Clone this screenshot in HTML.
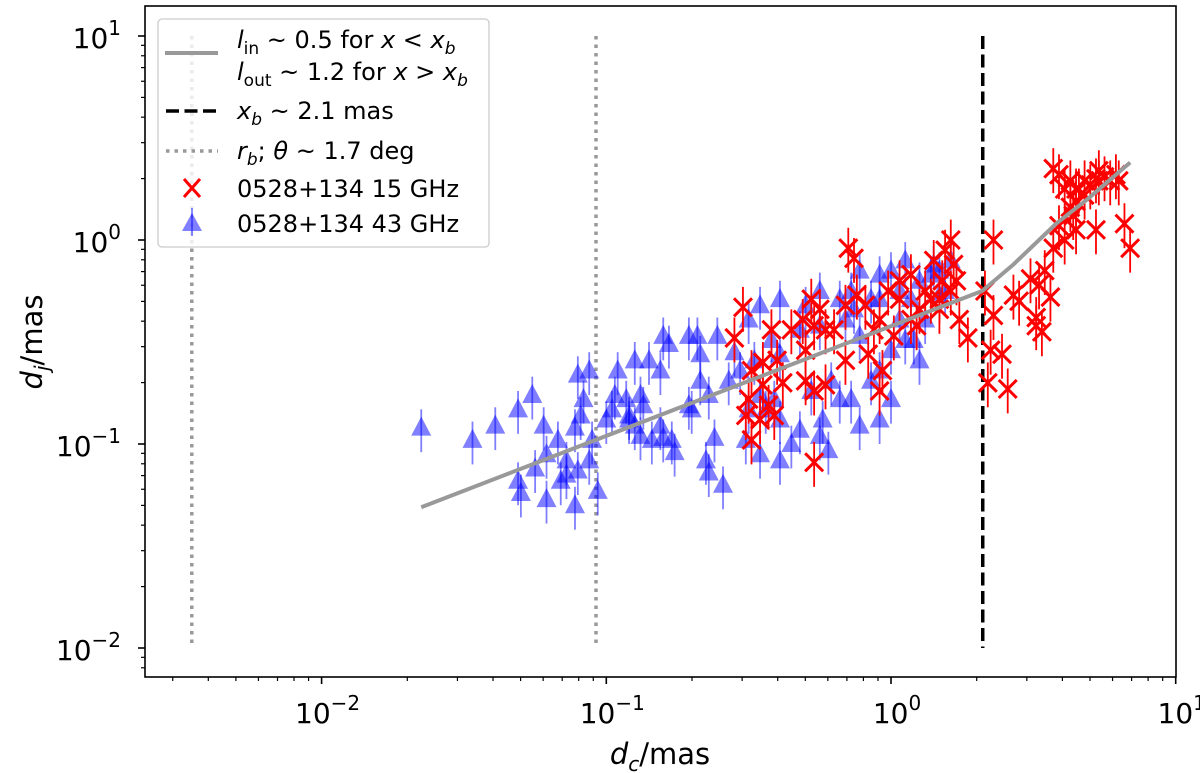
<!DOCTYPE html>
<html><head><meta charset="utf-8"><style>
body{margin:0;background:#fff;}
svg{display:block;font-family:"DejaVu Sans","Liberation Sans",sans-serif;}
</style></head><body>
<svg id="chart" width="1200" height="773" viewBox="0 0 1200 773" xmlns="http://www.w3.org/2000/svg">
<g id="plot"></g>
<g id="axes"></g>
<g id="legend"></g>
</svg>
<script>
// log10 values
const blueLogX = [-1.65,-1.47,-1.39,-1.31,-1.22,-1.21,-1.25,-1.26,-1.30,-1.31,-1.21,-1.16,-1.14,-1.10,-1.11,-1.10,-1.06,-1.05,-1.03,-1.06,-1.11,-1.17,-1.14,-1.09,-1.08,-0.97,-0.96,-0.90,-0.92,-0.87,-0.90,-0.85,-0.81,-0.80,-0.78,-0.71,-0.68,-0.61,-0.55,-0.64,-0.62,-0.65,-0.59,-0.76,-0.77,-0.80,-0.84,-0.88,-0.92,-0.93,-0.98,-1.00,-0.88,-0.70,-0.67,-0.57,-0.53,-0.67,-0.48,-0.46,-0.42,-0.41,-0.39,-0.50,-0.39,-0.32,-0.30,-0.25,-0.18,-0.16,-0.21,-0.18,-0.14,-0.24,-0.22,-0.25,-0.28,-0.39,-0.35,-0.44,-0.46,-0.13,-0.14,-0.07,-0.04,0.03,0.03,0.07,0.10,0.14,0.17,0.19,0.08,0.00,-0.04,-0.11,0.00,0.05,0.15,0.21,0.12,0.10,-0.07,-0.11,-0.04,-0.32,-0.50,-0.46,-0.39,-0.51,-0.71,-0.81,-0.04,0.00,-0.25,-0.11,0.05,0.17,-0.64];
const blueLogY = [-0.92,-0.98,-0.91,-0.83,-0.91,-1.05,-1.12,-0.76,-1.24,-1.18,-1.27,-1.18,-1.08,-1.13,-1.30,-0.66,-0.64,-0.98,-1.23,-1.08,-0.92,-0.98,-1.15,-0.86,-0.78,-0.76,-0.64,-0.91,-0.86,-0.81,-0.59,-0.59,-0.64,-0.47,-0.51,-0.47,-0.47,-0.47,-0.55,-0.76,-0.97,-1.08,-1.20,-1.04,-0.98,-0.97,-0.98,-0.96,-0.88,-0.78,-0.83,-0.88,-0.76,-0.83,-0.69,-0.69,-0.64,-0.56,-0.59,-0.32,-0.49,-0.78,-0.56,-0.39,-0.29,-0.44,-0.32,-0.42,-0.29,-0.39,-0.69,-0.78,-0.78,-0.88,-1.03,-0.96,-0.74,-0.88,-1.00,-0.83,-0.76,-0.34,-0.25,-0.29,-0.29,-0.25,-0.39,-0.29,-0.20,-0.17,-0.15,-0.25,-0.49,-0.54,-0.64,-0.47,-0.78,-0.49,-0.12,-0.10,-0.39,-0.59,-0.69,-0.91,-0.88,-0.93,-0.83,-1.05,-1.08,-0.98,-0.81,-0.91,-0.17,-0.15,-0.25,-0.15,-0.10,-0.27,-1.14];
const redLogX = [-0.55,-0.42,-0.52,-0.49,-0.45,-0.40,-0.35,-0.30,-0.31,-0.28,-0.27,-0.25,-0.23,-0.20,-0.16,-0.12,-0.09,-0.13,-0.01,0.03,0.07,0.10,0.12,0.14,0.17,0.21,0.19,0.21,0.22,0.15,0.18,0.24,0.23,-0.06,-0.04,0.03,0.07,-0.46,-0.49,-0.43,-0.51,-0.45,-0.27,-0.30,0.01,-0.08,-0.16,-0.23,-0.38,-0.41,-0.50,-0.04,-0.27,0.17,0.09,-0.03,-0.15,0.27,0.36,0.33,0.36,0.39,0.41,0.35,0.34,0.43,0.45,0.49,0.52,0.54,0.51,0.51,0.53,0.56,0.57,0.59,0.61,0.65,0.57,0.59,0.63,0.65,0.66,0.68,0.70,0.72,0.73,0.75,0.77,0.79,0.80,0.65,0.68,0.64,0.72,0.82,0.84,0.61,0.73,0.63];
const redLogY = [-0.48,-0.44,-0.33,-0.64,-0.60,-0.59,-0.44,-0.54,-0.39,-0.29,-0.42,-0.34,-0.44,-0.44,-0.32,-0.27,-0.32,-0.09,-0.25,-0.29,-0.39,-0.34,-0.25,-0.29,-0.29,-0.25,-0.05,0.00,-0.12,-0.10,-0.20,-0.39,-0.20,-0.44,-0.39,-0.20,-0.17,-0.88,-0.98,-0.81,-0.86,-0.71,-0.74,-0.69,-0.47,-0.56,-0.59,-0.71,-0.70,-0.86,-0.78,-0.74,-1.09,-0.34,-0.42,-0.64,-0.04,-0.48,0.00,-0.25,-0.37,-0.56,-0.73,-0.54,-0.70,-0.27,-0.30,-0.19,-0.22,-0.15,-0.42,-0.38,-0.45,-0.28,-0.04,0.07,0.00,0.05,0.35,0.32,0.29,0.25,0.25,0.29,0.27,0.30,0.29,0.31,0.29,0.32,0.29,0.19,0.22,0.12,0.05,0.08,-0.04,0.25,0.34,0.16];
const fitLogX = [-1.65,0.32,0.43,0.58,0.69,0.84];
const fitLogY = [-1.31,-0.25,-0.12,0.08,0.20,0.38];
const breakX = [2.1];
const rbX = [0.0035,0.092];
const xTickExp = [-2,-1,0,1];
const yTickExp = [-2,-1,0,1];

const L=145,R=1176,T=6,B=677;
const X0=891, XD=284.7, Y0=240, YD=204;
const sx = lx => X0 + XD*lx;
const sy = ly => Y0 - YD*ly;
const NS="http://www.w3.org/2000/svg";
function mk(tag, attrs, parent){const e=document.createElementNS(NS,tag);for(const k in attrs)e.setAttribute(k,attrs[k]);parent.appendChild(e);return e;}
const plot=document.getElementById('plot'), axes=document.getElementById('axes');
const cp=mk('clipPath',{id:'clip'},plot);
mk('rect',{x:L,y:T,width:R-L,height:B-T},cp);
const g=mk('g',{'clip-path':'url(#clip)'},plot);

rbX.forEach(v=>{const x=sx(Math.log10(v));
 const l=mk('line',{x1:x,x2:x,y1:sy(1),y2:sy(-2),stroke:'#999',"stroke-width":3.5,"stroke-dasharray":"3.5,5"},g);
 
 });
breakX.forEach(v=>{const x=sx(Math.log10(v));
 const l=mk('line',{x1:x,x2:x,y1:sy(1),y2:sy(-2),stroke:'#000',"stroke-width":3.5,"stroke-dasharray":"13,5.5"},g);
 
 });

blueLogX.forEach((lx,i)=>{const x=sx(lx),y=sy(blueLogY[i]);
 const t=mk('g',{},g);
 
 
 mk('line',{x1:x,x2:x,y1:sy(blueLogY[i]+0.09),y2:sy(blueLogY[i]-0.12),stroke:'rgba(0,0,255,0.5)',"stroke-width":1.8},t);
 mk('polygon',{points:`${x},${y-11} ${x-10},${y+8} ${x+10},${y+8}`,fill:'rgba(0,0,255,0.5)'},t);});
redLogX.forEach((lx,i)=>{const x=sx(lx),y=sy(redLogY[i]);
 const t=mk('g',{},g);
 
 
 mk('line',{x1:x,x2:x,y1:sy(redLogY[i]+0.1),y2:sy(redLogY[i]-0.12),stroke:'#f00',"stroke-width":1.8},t);
 mk('path',{d:`M${x-9},${y-9}L${x+9},${y+9}M${x-9},${y+9}L${x+9},${y-9}`,stroke:'#f00',"stroke-width":3,fill:'none'},t);});
const fl=mk('polyline',{points:fitLogX.map((lx,i)=>sx(lx)+','+sy(fitLogY[i])).join(' '),fill:'none',stroke:'#999',"stroke-width":4},g);



mk('rect',{x:L,y:T,width:R-L,height:B-T,fill:'none',stroke:'#000',"stroke-width":1.6},axes);
for(let e=-3;e<=1;e++){for(let m=1;m<10;m++){const lx=e+Math.log10(m);const x=sx(lx);if(x<L-0.5||x>R+0.5)continue;
 mk('line',{x1:x,x2:x,y1:B,y2:B+(m===1?7:4),stroke:'#000',"stroke-width":m===1?1.6:1.2},axes);}}
xTickExp.forEach(e=>{const t=mk('text',{x:sx(e)+6,y:B+46,"text-anchor":"middle","font-size":28},axes);
 
 
 t.textContent='10';const s=mk('tspan',{dy:-13,"font-size":20},t);s.textContent=e<0?'\u2212'+(-e):String(e);});
for(let e=-3;e<=1;e++){for(let m=1;m<10;m++){const ly=e+Math.log10(m);const y=sy(ly);if(y<T-0.5||y>B+0.5)continue;
 mk('line',{x1:L,x2:L-(m===1?7:4),y1:y,y2:y,stroke:'#000',"stroke-width":m===1?1.6:1.2},axes);}}
yTickExp.forEach(e=>{const t=mk('text',{x:L-24,y:sy(e)+12,"text-anchor":"end","font-size":28},axes);
 
 
 t.textContent='10';const s=mk('tspan',{dy:-13,"font-size":20},t);s.textContent=e<0?'\u2212'+(-e):String(e);});
</script>
<svg style="position:absolute;left:0;top:0" width="1200" height="773">
<text x="660" y="764" text-anchor="middle" font-size="29" font-family="DejaVu Sans, sans-serif"><tspan font-style="italic">d</tspan><tspan font-style="italic" font-size="20" dy="7">c</tspan><tspan dy="-7">/mas</tspan></text>
<text transform="translate(42,342) rotate(-90)" text-anchor="middle" font-size="29" font-family="DejaVu Sans, sans-serif"><tspan font-style="italic">d</tspan><tspan font-style="italic" font-size="20" dy="7">j</tspan><tspan dy="-7">/mas</tspan></text>
<g font-family="DejaVu Sans, sans-serif" font-size="24">
<rect x="158" y="19" width="331" height="228" rx="4" fill="rgba(255,255,255,0.8)" stroke="#ccc" stroke-width="1.3"/>
<g>
<line x1="165" y1="53" x2="218" y2="53" stroke="#999" stroke-width="4"/>
<text x="237" y="48"><tspan font-style="italic">l</tspan><tspan font-size="17" dy="6">in</tspan><tspan dy="-6"> ~ 0.5 for </tspan><tspan font-style="italic">x</tspan> &lt; <tspan font-style="italic">x</tspan><tspan font-style="italic" font-size="17" dy="6">b</tspan></text>
<text x="237" y="80"><tspan font-style="italic">l</tspan><tspan font-size="17" dy="6">out</tspan><tspan dy="-6"> ~ 1.2 for </tspan><tspan font-style="italic">x</tspan> &gt; <tspan font-style="italic">x</tspan><tspan font-style="italic" font-size="17" dy="6">b</tspan></text>
</g>
<g>
<line x1="166" y1="111" x2="218" y2="111" stroke="#000" stroke-width="3.5" stroke-dasharray="13,5.5"/>
<text x="237" y="119"><tspan font-style="italic">x</tspan><tspan font-style="italic" font-size="17" dy="6">b</tspan><tspan dy="-6"> ~ 2.1 mas</tspan></text>
</g>
<g>
<line x1="166" y1="151" x2="218" y2="151" stroke="#999" stroke-width="3.5" stroke-dasharray="3.5,5"/>
<text x="237" y="159"><tspan font-style="italic">r</tspan><tspan font-style="italic" font-size="17" dy="6">b</tspan><tspan dy="-6">;  </tspan><tspan font-style="italic">θ</tspan> ~ 1.7 deg</text>
</g>
<g>
<path d="M184,179L200,197M184,197L200,179" stroke="#f00" stroke-width="3"/>
<text x="237" y="197">0528+134 15 GHz</text>
</g>
<g>
<polygon points="192,213 182,231 202,231" fill="rgba(0,0,255,0.5)"/>
<line x1="192" y1="208" x2="192" y2="236" stroke="rgba(0,0,255,0.5)" stroke-width="1.8"/>
<text x="237" y="232">0528+134 43 GHz</text>
</g>
</g>
</svg>
</body></html>
